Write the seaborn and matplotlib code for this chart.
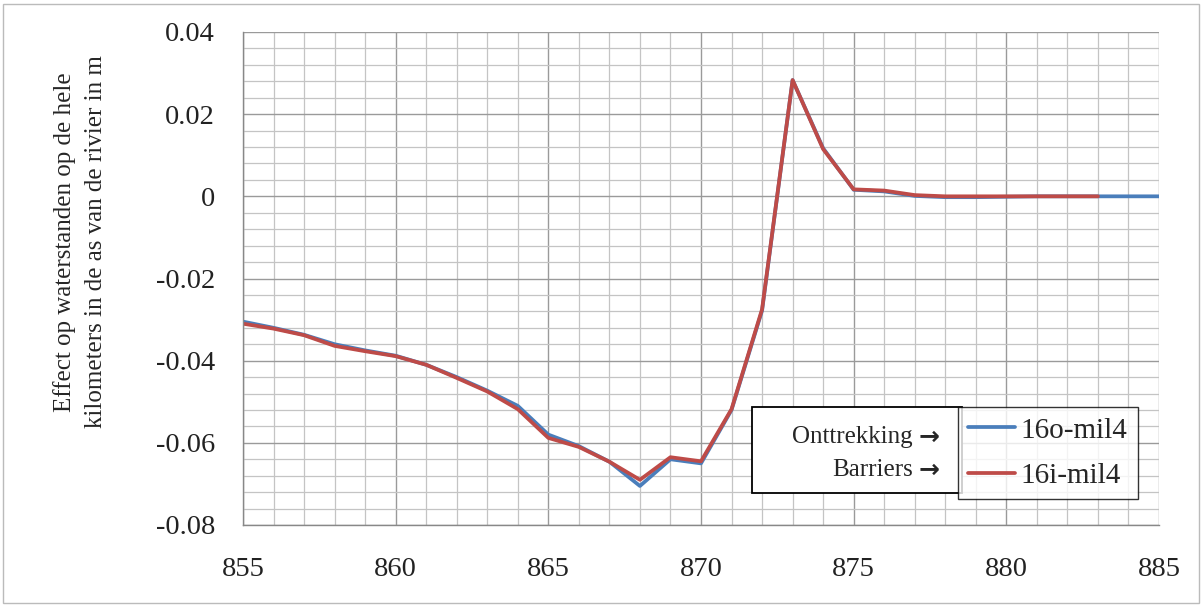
import matplotlib
matplotlib.use('Agg')
import matplotlib.pyplot as plt
import seaborn as sns
import pandas as pd
from matplotlib.patches import Rectangle
from matplotlib.lines import Line2D
from matplotlib.ticker import MultipleLocator

# Data
km_16o = list(range(855, 886))
val_16o = [-0.0305, -0.0320, -0.0337, -0.0360, -0.0375, -0.0388, -0.0410, -0.0440,
           -0.0473, -0.0510, -0.0580, -0.0608, -0.0646, -0.0705, -0.0640, -0.0650,
           -0.0520, -0.0278, 0.0283, 0.0117, 0.0016, 0.0012, 0.0001, -0.0002,
           -0.0002, -0.0001, 0.0, 0.0, 0.0, 0.0, 0.0]
km_16i = list(range(855, 884))
val_16i = [-0.0310, -0.0322, -0.0338, -0.0364, -0.0377, -0.0389, -0.0410, -0.0442,
           -0.0475, -0.0518, -0.0588, -0.0610, -0.0646, -0.0690, -0.0635, -0.0645,
           -0.0518, -0.0275, 0.0283, 0.0115, 0.0017, 0.0014, 0.0003, 0.0000,
           0.0000, 0.0000, 0.0, 0.0, 0.0]

series_names = ['16o-mil4', '16i-mil4']
colors = ['#4a7ebb', '#be4b48']

df = pd.concat([
    pd.DataFrame({'km': km_16o, 'effect': val_16o, 'serie': series_names[0]}),
    pd.DataFrame({'km': km_16i, 'effect': val_16i, 'serie': series_names[1]}),
])

sns.set_theme(style='white')
plt.rcParams['font.family'] = ['Liberation Serif', 'DejaVu Sans']

fig = plt.figure(figsize=(12.03, 6.06), dpi=100)
ax = fig.add_axes([243 / 1203, 1 - 525 / 606, (1159 - 243) / 1203, (525 - 32) / 606])

sns.lineplot(data=df, x='km', y='effect', hue='serie', palette=colors,
             linewidth=2.7, ax=ax, legend=False)

ax.set_xlim(855, 885)
ax.set_ylim(-0.08, 0.04)
ax.xaxis.set_major_locator(MultipleLocator(5))
ax.xaxis.set_minor_locator(MultipleLocator(1))
ax.yaxis.set_major_locator(MultipleLocator(0.02))
ax.yaxis.set_minor_locator(MultipleLocator(0.004))
ax.grid(which='major', color='#9a9a9a', linewidth=1.0)
ax.grid(which='minor', color='#c4c4c4', linewidth=0.9)
ax.set_axisbelow(True)

ax.yaxis.set_major_formatter(plt.FuncFormatter(lambda v, p: '0' if abs(v) < 1e-9 else f'{v:.2f}'))
ax.tick_params(axis='both', which='major', labelsize=20.5, labelcolor='#222222',
               color='#888888', length=6, width=1, direction='out')
ax.tick_params(axis='y', which='major', pad=14)
ax.tick_params(axis='x', which='major', pad=17)
ax.tick_params(which='minor', length=0)

for side in ['top', 'right']:
    ax.spines[side].set_visible(False)
for side in ['left', 'bottom']:
    ax.spines[side].set_color('#888888')
    ax.spines[side].set_linewidth(1)

ax.set_xlabel('')
ax.set_ylabel('')
fig.text(80 / 1203, 1 - 242 / 606,
         'Effect op waterstanden op de hele\nkilometers in de as van de rivier in m',
         rotation=90, ha='center', va='center', fontsize=18, linespacing=1.5)

# Legend with series lines
handles = [Line2D([], [], color=c, linewidth=2.7) for c in colors]
leg = fig.legend(handles, series_names, loc='upper left',
                 bbox_to_anchor=(958 / 1203, 1 - 407 / 606),
                 frameon=True, fancybox=False, edgecolor='black', fontsize=21,
                 handlelength=1.6, handletextpad=0.2, borderpad=0.35,
                 labelspacing=0.65, borderaxespad=0)
leg.get_frame().set_linewidth(1)

# Left box with explanation arrows
fig.patches.append(Rectangle((752 / 1203, 1 - 493 / 606), (962 - 752) / 1203, (493 - 407) / 606,
                             transform=fig.transFigure, facecolor='white',
                             edgecolor='black', linewidth=1.3, zorder=5))
for label, ypix in [('Onttrekking', 437), ('Barriers', 470)]:
    fig.text(913 / 1203, 1 - ypix / 606, label, ha='right', va='center',
             fontsize=18, zorder=6)
    fig.text(940 / 1203, 1 - ypix / 606, '\u2192', ha='right', va='center',
             fontsize=18, fontweight='bold', family='DejaVu Sans', zorder=6)

# Outer chart border
fig.patches.append(Rectangle((3 / 1203, 3 / 606), 1196 / 1203, 599 / 606,
                             transform=fig.transFigure, fill=False,
                             edgecolor='#bbbbbb', linewidth=1))

fig.savefig('out.png', dpi=100)
